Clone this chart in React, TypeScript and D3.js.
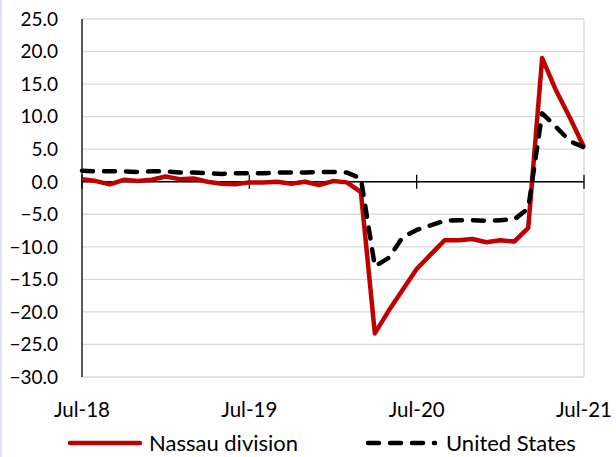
import React from 'react';
import * as d3 from 'd3';

const months: string[] = d3.range(37).map(i => d3.timeFormat('%b-%y')(new Date(2018, 6 + i, 1)));
const tickLabels = ['Jul-18', 'Jul-19', 'Jul-20', 'Jul-21'];
const yTicks = [25, 20, 15, 10, 5, 0, -5, -10, -15, -20, -25, -30];

const nassau = [
  0.4, 0.1, -0.4, 0.3, 0.1, 0.3, 0.8, 0.4, 0.5, 0.0, -0.3, -0.4,
  -0.1, -0.1, 0.0, -0.3, 0.0, -0.5, 0.1, -0.1, -1.6, -23.3, -19.8, -16.6,
  -13.4, -11.2, -9.0, -9.0, -8.8, -9.3, -9.0, -9.2, -7.1, 19.0, 14.0, 9.8,
  5.3,
];
const unitedStates = [
  1.7, 1.6, 1.6, 1.6, 1.5, 1.6, 1.6, 1.4, 1.4, 1.3, 1.2, 1.3,
  1.3, 1.3, 1.4, 1.4, 1.4, 1.5, 1.5, 1.4, 0.5, -13.0, -11.7, -8.5,
  -7.4, -6.7, -6.0, -5.9, -5.9, -6.0, -5.9, -5.8, -4.1, 10.5, 8.4, 6.2,
  5.3,
];

const W = 616;
const H = 457;
const margin = { top: 19, right: 32, bottom: 80, left: 82 };
const FONT = 'Lato, "DejaVu Sans", sans-serif';

export default function App() {
  const x = d3.scalePoint<string>().domain(months).range([margin.left, W - margin.right]);
  const y = d3.scaleLinear().domain([-30, 25]).range([H - margin.bottom, margin.top]);

  const line = d3.line<number>()
    .x((_, i) => x(months[i]) as number)
    .y(d => y(d));

  const x0 = margin.left;
  const x1 = W - margin.right;

  return (
    <div style={{ position: 'fixed', left: 0, top: 0 }}>
      <svg width={W} height={H} style={{ display: 'block', background: '#fff' }}>
        <rect x={0} y={0} width={2} height={H} fill="#dbe5f1" />
        {/* gridlines */}
        {yTicks.map(t => (
          <line key={t} x1={x0} x2={x1} y1={y(t)} y2={y(t)} stroke="#d9d9d9" strokeWidth={1.3} />
        ))}
        <line x1={x1} x2={x1} y1={y(25)} y2={y(-30)} stroke="#d9d9d9" strokeWidth={1.3} />
        {/* y axis */}
        <line x1={x0} x2={x0} y1={y(25)} y2={y(-30)} stroke="#000" strokeWidth={1.3} />
        {yTicks.map(t => (
          <text key={t} x={58} y={y(t)} dy="0.36em" textAnchor="end" fontFamily={FONT} fontSize={19} fill="#000">
            {d3.format('.1f')(t)}
          </text>
        ))}
        {/* x axis at zero */}
        <line x1={x0} x2={x1} y1={y(0)} y2={y(0)} stroke="#000" strokeWidth={1.3} />
        {tickLabels.map(m => (
          <g key={m}>
            <line x1={x(m)} x2={x(m)} y1={y(0) - 7} y2={y(0) + 7} stroke="#000" strokeWidth={1.3} />
            <text x={x(m)} y={417} textAnchor="middle" fontFamily={FONT} fontSize={20.5} fill="#000">{m}</text>
          </g>
        ))}
        {/* series */}
        <path d={line(nassau) ?? ''} fill="none" stroke="#c00000" strokeWidth={4.5} strokeLinejoin="round" />
        <path d={line(unitedStates) ?? ''} fill="none" stroke="#000" strokeWidth={4.5}
          strokeDasharray="11 11" strokeLinecap="round" strokeLinejoin="round" />
        {/* legend */}
        <line x1={70} x2={140} y1={443} y2={443} stroke="#c00000" strokeWidth={4.5} strokeLinecap="round" />
        <text x={149} y={443} dy="0.36em" fontFamily={FONT} fontSize={22} fill="#000">Nassau division</text>
        <line x1={368} x2={435} y1={443} y2={443} stroke="#000" strokeWidth={4.5}
          strokeDasharray="11 11" strokeLinecap="round" />
        <text x={446} y={443} dy="0.36em" fontFamily={FONT} fontSize={22} fill="#000">United States</text>
      </svg>
    </div>
  );
}
